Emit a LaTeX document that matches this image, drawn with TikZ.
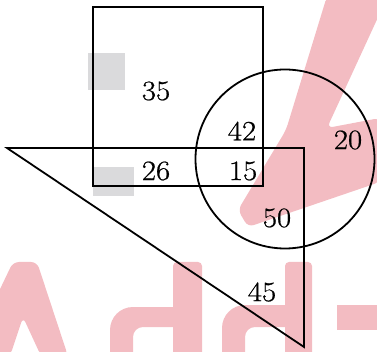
\documentclass[tikz,border=0pt]{standalone}
\usepackage{fontspec}
\setmainfont{Latin Modern Roman}
\newfontfamily\digfont[FakeBold=0.7]{Latin Modern Roman}
\usepackage{tikz}
\definecolor{wm}{RGB}{243,188,194}
\definecolor{scan}{RGB}{218,218,220}
\tikzset{
  fig/.style={draw=black,line width=1.8pt,line join=miter},
  lbl/.style={inner sep=0pt,font=\digfont\fontsize{28}{28}\selectfont},
  wmark/.style={fill=wm,draw=none},
}
\newcommand{\dg}[1]{\scalebox{1.1}[1]{#1}}
\begin{document}
\begin{tikzpicture}[x=1pt,y=-1pt]
\useasboundingbox (0,0) rectangle (377,352);
% watermark
\fill[wmark,rounded corners=6pt] (327,-4) -- (380,-4) -- (380,13) -- (327,128) -- (380,118) -- (380,182) -- (248,227) -- (238,210) -- (286,130) -- cycle;
\fill[wmark,rounded corners=6pt] (-32,356) -- (13,262) -- (37,262) -- (68,356) -- (41,356) -- (23,317) -- (10,356) -- cycle;
\fill[wmark,rounded corners=4pt] (173,356) -- (173,262) -- (202,262) -- (202,356) -- cycle;
\fill[wmark,even odd rule] (110,356) -- (110,330) to[out=90,in=180] (133,307) -- (180,307) -- (180,356) -- cycle
  (133,356) -- (133,337) to[out=90,in=180] (143,327) -- (174,327) -- (174,356) -- cycle;
\fill[wmark,rounded corners=4pt] (285,356) -- (285,262) -- (312,262) -- (312,356) -- cycle;
\fill[wmark,even odd rule] (222,356) -- (222,328) to[out=90,in=180] (245,305) -- (292,305) -- (292,356) -- cycle
  (245,356) -- (245,337) to[out=90,in=180] (255,327) -- (286,327) -- (286,356) -- cycle;
\fill[wmark] (337,305) rectangle (380,330);
% scan artefacts
\fill[scan] (88,53) rectangle (125,90);
\fill[scan] (93,167) rectangle (134,196);
% figures
\draw[fig] (93,7) rectangle (263,186);
\draw[fig] (7,148) -- (304,148) -- (304,347) -- cycle;
\draw[fig] (285,159) circle[radius=89.5];
% labels
\node[lbl] (n35) at (156,91) {\dg{35}};
\node[lbl] (n42) at (242,131) {\dg{42}};
\node[lbl] (n20) at (348,140) {\dg{20}};
\node[lbl] (n26) at (156,171) {\dg{26}};
\node[lbl] (n15) at (243,171) {\dg{15}};
\node[lbl] (n50) at (277,218) {\dg{50}};
\node[lbl] (n45) at (262,292) {\dg{45}};
\end{tikzpicture}
\end{document}
